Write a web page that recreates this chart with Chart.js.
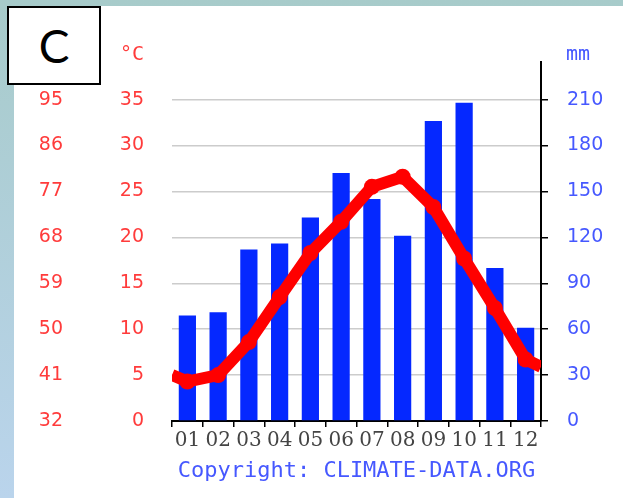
<!DOCTYPE html>
<html>
<head>
<meta charset="utf-8">
<script src="https://cdn.jsdelivr.net/npm/chart.js@4.4.6/dist/chart.umd.min.js"></script>
<style>
  html, body { margin: 0; padding: 0; }
  body {
    width: 623px; height: 498px; position: relative; overflow: hidden;
    background: linear-gradient(to bottom, #a7cbca, #bad4ec);
  }
  #panel { position: absolute; left: 14px; top: 6px; right: 0; bottom: 0; background: #fff; }
  #chart { position: absolute; left: 0; top: 0; }
  #tag {
    position: absolute; left: 7px; top: 6px; width: 90px; height: 75px;
    border: 2px solid #000; background: #fff;
    font: 46px Lato, "Liberation Sans", sans-serif; color: #000;
    display: flex; align-items: center; justify-content: center;
  }
</style>
</head>
<body>
<div id="panel"></div>
<canvas id="chart" width="623" height="498"></canvas>
<div id="tag">C</div>
<script>
/* data */
const months = ["01", "02", "03", "04", "05", "06", "07", "08", "09", "10", "11", "12"];
const precipMm = [69, 71, 112, 116, 133, 162, 145, 121, 196, 208, 100, 61];
const tempC = [4.3, 5.0, 8.6, 13.5, 18.3, 21.7, 25.5, 26.6, 23.3, 17.7, 12.3, 6.7];
const tempEdges = [5.0, 5.9]; // line runs out to the left and right plot edges
const fahrenheitLabels = ["32", "41", "50", "59", "68", "77", "86", "95"];

const red = "#ff3b3b";
const blue = "#4658ff";

// line points: edge, 12 months at category centres, edge
const linePoints = [{ x: 0, y: tempEdges[0] }]
  .concat(tempC.map((t, i) => ({ x: i + 0.5, y: t })))
  .concat([{ x: months.length, y: tempEdges[1] }]);

// unit labels above the two value axes
const unitLabels = {
  id: "unitLabels",
  afterDraw(chart) {
    const { ctx, chartArea, scales } = chart;
    ctx.save();
    ctx.textBaseline = "middle";
    ctx.font = "20px 'DejaVu Sans Mono'";
    ctx.fillStyle = red;
    ctx.textAlign = "right";
    ctx.fillText("°C", scales.y.right - 28, chartArea.top - 7);
    ctx.fillStyle = blue;
    ctx.textAlign = "left";
    ctx.fillText("mm", scales.y2.left + 25, chartArea.top - 7);
    ctx.restore();
  }
};

new Chart(document.getElementById("chart"), {
  data: {
    labels: months,
    datasets: [
      {
        type: "line",
        data: linePoints,
        xAxisID: "x2",
        yAxisID: "y",
        borderColor: "#ff0000",
        backgroundColor: "#ff0000",
        borderWidth: 12,
        pointRadius: (c) => (c.dataIndex === 0 || c.dataIndex === linePoints.length - 1 ? 0 : 8),
        pointBorderWidth: 0,
        tension: 0,
        order: 0
      },
      {
        type: "bar",
        data: precipMm,
        xAxisID: "x",
        yAxisID: "y2",
        backgroundColor: "#0528ff",
        grouped: false,
        barPercentage: 0.56,
        categoryPercentage: 1,
        order: 1
      }
    ]
  },
  options: {
    responsive: false,
    animation: false,
    layout: { padding: { left: 14, top: 62, right: 0, bottom: 0 } },
    plugins: { legend: { display: false }, tooltip: { enabled: false } },
    scales: {
      x: {
        type: "category",
        position: "bottom",
        offset: true,
        border: { display: true, color: "#000", width: 2 },
        grid: { display: true, drawOnChartArea: false, drawTicks: true, tickLength: 6, color: "#000", lineWidth: 1.5, offset: true },
        ticks: { color: "#444", font: { family: "DejaVu Serif", size: 20 }, padding: 2, maxRotation: 0, autoSkip: false },
        title: {
          display: true,
          text: "Copyright: CLIMATE-DATA.ORG",
          color: blue,
          font: { family: "DejaVu Sans Mono", size: 22 },
          padding: { top: 0, bottom: 14 }
        },
        afterFit: (s) => { s.height = 77; }
      },
      x2: { type: "linear", display: false, min: 0, max: months.length },
      y: {
        position: "left",
        weight: 0,
        min: 0,
        max: 39.1,
        border: { display: false },
        grid: { color: (c) => (c.tick && c.tick.value === 0 ? "rgba(0,0,0,0)" : "#cccccc"), lineWidth: 1.5, drawTicks: false },
        ticks: { stepSize: 5, includeBounds: false, color: red, font: { family: "DejaVu Sans", size: 19 }, padding: 28 },
        afterFit: (s) => { s.width = 72; }
      },
      yF: {
        position: "left",
        weight: 1,
        min: 0,
        max: 39.1,
        border: { display: false },
        grid: { display: false, drawTicks: false },
        ticks: {
          stepSize: 5,
          includeBounds: false,
          color: red,
          font: { family: "DejaVu Sans", size: 19 },
          padding: 37,
          callback: (v, i) => fahrenheitLabels[i]
        },
        afterFit: (s) => { s.width = 86; }
      },
      y2: {
        position: "right",
        min: 0,
        max: 234.6,
        border: { display: true, color: "#000", width: 2 },
        grid: { display: true, drawOnChartArea: false, drawTicks: true, tickLength: 7, color: "#000", lineWidth: 1.5 },
        ticks: { stepSize: 30, includeBounds: false, color: blue, font: { family: "DejaVu Sans", size: 19 }, padding: 19 },
        afterFit: (s) => { s.width = 82; }
      }
    }
  },
  plugins: [unitLabels]
});
</script>
</body>
</html>
